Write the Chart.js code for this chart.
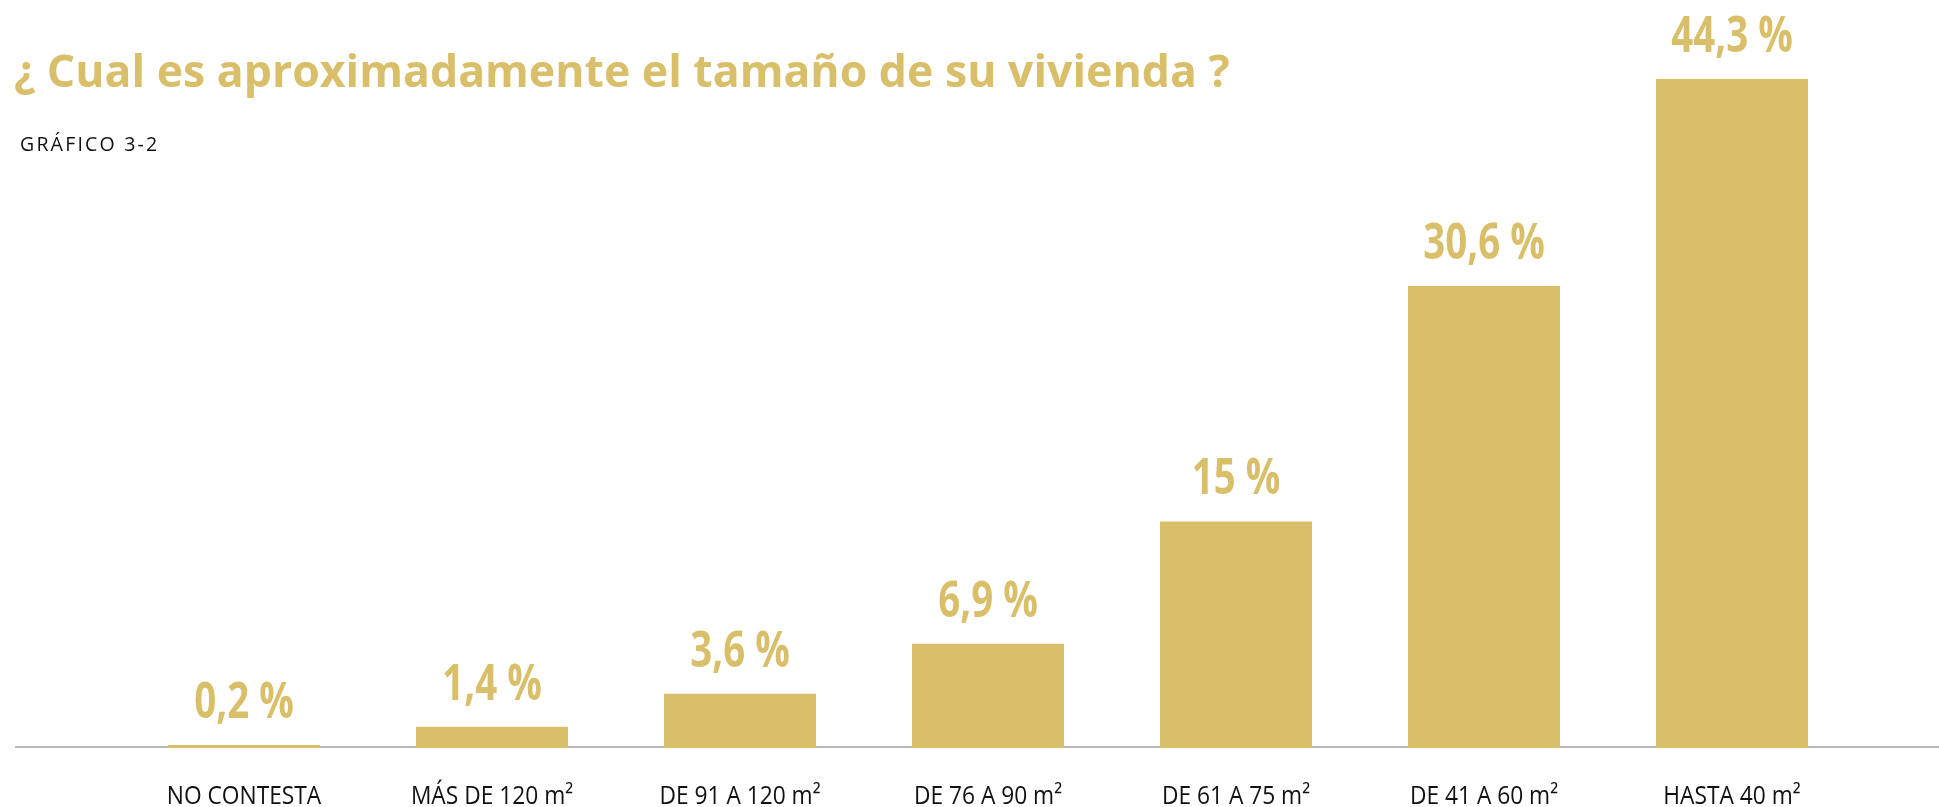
<!DOCTYPE html>
<html>
<head>
<meta charset="utf-8">
<script src="https://cdn.jsdelivr.net/npm/chart.js@4.4.1/dist/chart.umd.min.js"></script>
<style>
  html, body { margin: 0; padding: 0; background: #fff; }
  #wrap { position: relative; width: 1939px; height: 807px; overflow: hidden; }
  #title { position: absolute; left: 14px; top: 48px; font-family: "Open Sans", sans-serif; font-weight: 700; font-size: 44.6px; color: #D9BF69; white-space: nowrap; line-height: 1; }
  #sub { position: absolute; left: 20px; top: 134px; font-family: "Open Sans", sans-serif; font-size: 19.5px; letter-spacing: 2.2px; color: #111; white-space: nowrap; line-height: 1; }
  canvas { position: absolute; left: 0; top: 0; }
</style>
</head>
<body>
<div id="wrap">
  <canvas id="c" width="1939" height="807"></canvas>
  <div id="title">¿ Cual es aproximadamente el tamaño de su vivienda ?</div>
  <div id="sub">GRÁFICO 3-2</div>
</div>
<script>
const categories = ["NO CONTESTA", "MÁS DE 120 m²", "DE 91 A 120 m²", "DE 76 A 90 m²", "DE 61 A 75 m²", "DE 41 A 60 m²", "HASTA 40 m²"];
const values = [0.2, 1.4, 3.6, 6.9, 15, 30.6, 44.3];
const valueLabels = ["0,2 %", "1,4 %", "3,6 %", "6,9 %", "15 %", "30,6 %", "44,3 %"];

const GOLD = "#D9BF69";

const baselinePlugin = {
  id: "baseline",
  beforeDatasetsDraw(chart) {
    const ctx = chart.ctx;
    const y0 = chart.scales.y.getPixelForValue(0);
    ctx.save();
    ctx.strokeStyle = "#b9b9b9";
    ctx.lineWidth = 2;
    ctx.beginPath();
    ctx.moveTo(15, y0 - 1);
    ctx.lineTo(chart.width, y0 - 1);
    ctx.stroke();
    ctx.restore();
  }
};

const valueLabelPlugin = {
  id: "valueLabels",
  afterDatasetsDraw(chart) {
    const ctx = chart.ctx;
    const meta = chart.getDatasetMeta(0);
    ctx.save();
    ctx.fillStyle = GOLD;
    ctx.font = "700 50px 'Open Sans', sans-serif";
    ctx.textAlign = "center";
    ctx.textBaseline = "alphabetic";
    meta.data.forEach((bar, i) => {
      ctx.save();
      ctx.translate(bar.x, bar.y - 27);
      ctx.scale(0.77, 1);
      ctx.fillText(valueLabels[i], 0, 0);
      ctx.restore();
    });
    ctx.restore();
  }
};

const xLabelPlugin = {
  id: "xLabels",
  afterDraw(chart) {
    const ctx = chart.ctx;
    const xs = chart.scales.x;
    ctx.save();
    ctx.fillStyle = "#111";
    ctx.font = "500 25px 'Open Sans', sans-serif";
    ctx.textAlign = "center";
    ctx.textBaseline = "alphabetic";
    categories.forEach((lab, i) => {
      ctx.save();
      ctx.translate(xs.getPixelForTick(i), xs.top + 56);
      ctx.scale(0.91, 1);
      ctx.fillText(lab, 0, 0);
      ctx.restore();
    });
    ctx.restore();
  }
};

new Chart(document.getElementById("c"), {
  type: "bar",
  data: {
    labels: categories,
    datasets: [{
      data: values,
      backgroundColor: GOLD,
      borderWidth: 0,
      barPercentage: 0.613,
      categoryPercentage: 1.0
    }]
  },
  options: {
    responsive: false,
    animation: false,
    events: [],
    layout: { padding: { left: 120, right: 83, top: 79, bottom: 0 } },
    plugins: { legend: { display: false }, tooltip: { enabled: false }, title: { display: false } },
    scales: {
      x: {
        grid: { display: false, drawTicks: false },
        border: { display: false },
        ticks: { display: false },
        afterFit(scale) { scale.height = 59; }
      },
      y: {
        display: false,
        min: 0,
        max: Math.max(...values)
      }
    }
  },
  plugins: [baselinePlugin, valueLabelPlugin, xLabelPlugin]
});
</script>
</body>
</html>
